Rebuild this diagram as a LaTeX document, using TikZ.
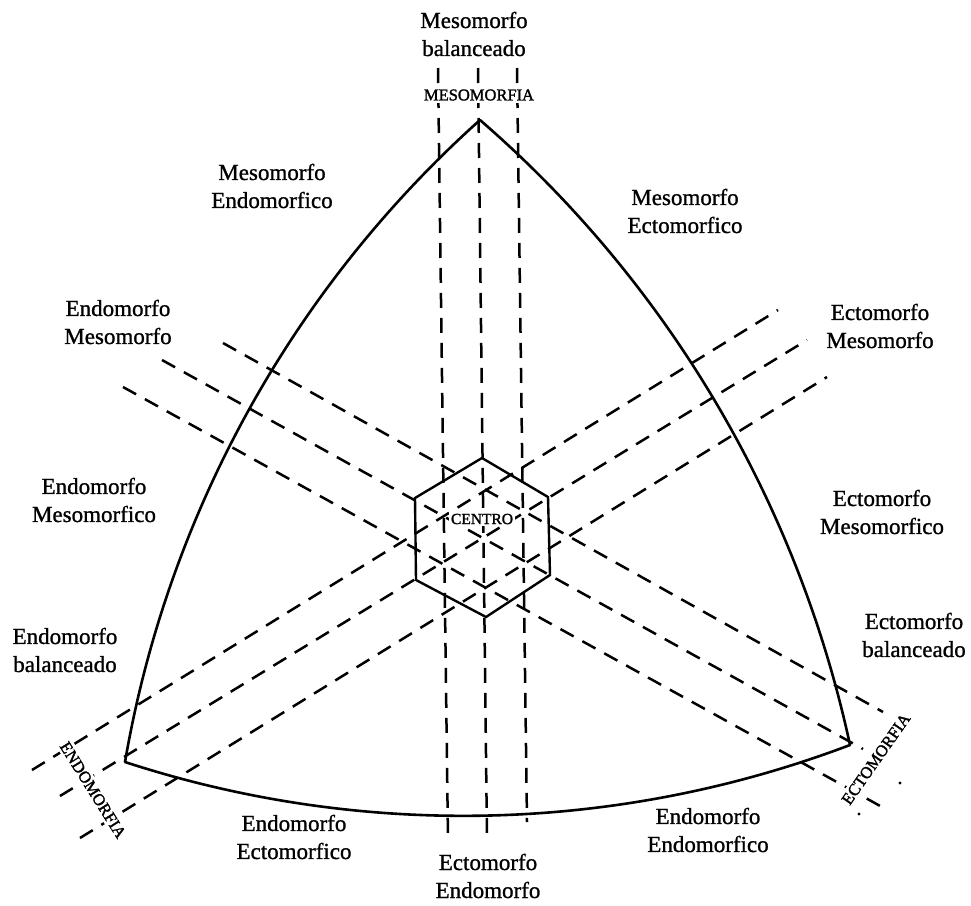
\documentclass[tikz,border=0pt]{standalone}
\usepackage{fontspec}
\setmainfont{Liberation Serif}[FakeBold=1]
\newfontfamily\axisfont{Liberation Serif}[FakeBold=1.6]
\begin{document}
\begin{tikzpicture}[x=1pt,y=-1pt,
  side/.style={line width=2.6pt, line join=round},
  hexline/.style={line width=2.4pt, line join=miter},
  guide/.style={line width=2.5pt, dash pattern=on 15pt off 10pt},
  lbl/.style={align=center, font=\fontsize{23}{28}\selectfont, inner sep=0pt},
  axislbl/.style={font=\axisfont\fontsize{16.5}{18}\selectfont, fill=white, inner sep=2.5pt},
]
\useasboundingbox (0,0) rectangle (971,905);
\fill[white] (0,0) rectangle (971,905);

% corners of the curved triangle
\coordinate (apex) at (480,120);
\coordinate (bl) at (125,762);
\coordinate (br) at (850,745);

% hexagon vertices
\coordinate (h1) at (482,458);
\coordinate (h2) at (415,498);
\coordinate (h3) at (416,580);
\coordinate (h4) at (486,617);
\coordinate (h5) at (550,575);
\coordinate (h6) at (548,497);

% vertical guide lines
\coordinate (v1t) at (438,68);  \coordinate (v1b) at (448,840);
\coordinate (v2t) at (478,68);  \coordinate (v2b) at (487,840);
\coordinate (v3t) at (517,68);  \coordinate (v3b) at (527,822);
% guide lines falling to the right
\coordinate (at) at (223,343);  \coordinate (ab) at (883,712);
\coordinate (bt) at (162,360);  \coordinate (bb) at (863,749);
\coordinate (ct) at (123,387);  \coordinate (cb) at (882,807);
% guide lines rising to the right
\coordinate (ds) at (32,770);   \coordinate (de) at (778,310);
\coordinate (es) at (60,796);   \coordinate (ee) at (807,340);
\coordinate (fs) at (80,838);   \coordinate (fe) at (827,377);

\draw[guide] (v1t) -- (v1b);
\draw[guide] (v2t) -- (v2b);
\draw[guide] (v3t) -- (v3b);
\draw[guide] (at) -- (ab);
\draw[guide] (bt) -- (bb);
\draw[guide] (ct) -- (cb);
\draw[guide] (ds) -- (de);
\draw[guide] (es) -- (ee);
\draw[guide] (fs) -- (fe);

% curved triangle
\draw[side] (apex) .. controls (292.6,288.0) and (167.6,513.9) .. (bl)
  .. controls (361.6,839.2) and (617.2,833.2) .. (br)
  .. controls (797.6,502.1) and (667.8,282.7) .. (apex) -- cycle;

% hexagon
\draw[hexline] (h1) -- (h2) -- (h3) -- (h4) -- (h5) -- (h6) -- cycle;

% stray marks
\fill (900,783) circle (1.6);
\fill (859,814) circle (1.6);

% axis labels
\node[axislbl] (meso) at (479,95) {MESOMORFIA};
\node[axislbl, rotate=-58] (endo) at (93,790) {ENDOMORFIA};
\node[axislbl, rotate=55] (ecto) at (876,759) {ECTOMORFIA};
\node[font=\axisfont\fontsize{15.5}{18}\selectfont, fill=white, inner sep=2pt] (centro) at (482,519) {CENTRO};

% region labels
\node[lbl] (l1) at (474,34) {Mesomorfo\\balanceado};
\node[lbl] (l2) at (272,186) {Mesomorfo\\Endomorfico};
\node[lbl] (l3) at (685,211) {Mesomorfo\\Ectomorfico};
\node[lbl] (l4) at (118,322) {Endomorfo\\Mesomorfo};
\node[lbl] (l5) at (880,326) {Ectomorfo\\Mesomorfo};
\node[lbl] (l6) at (94,500) {Endomorfo\\Mesomorfico};
\node[lbl] (l7) at (882,512) {Ectomorfo\\Mesomorfico};
\node[lbl] (l8) at (65,650) {Endomorfo\\balanceado};
\node[lbl] (l9) at (914,635) {Ectomorfo\\balanceado};
\node[lbl] (l10) at (294,837) {Endomorfo\\Ectomorfico};
\node[lbl] (l11) at (708,830) {Endomorfo\\Endomorfico};
\node[lbl] (l12) at (488,876) {Ectomorfo\\Endomorfo};
\end{tikzpicture}
\end{document}
